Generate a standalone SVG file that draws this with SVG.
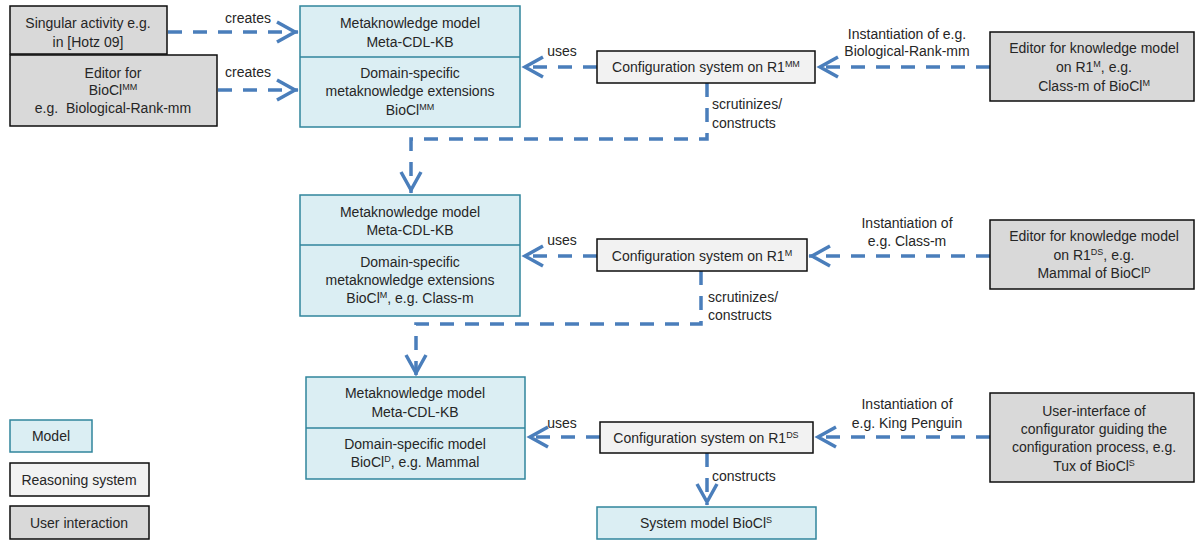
<svg xmlns="http://www.w3.org/2000/svg" width="1195" height="540" viewBox="0 0 1195 540">
<style>
.model{fill:#dbeef3;stroke:#31859c;stroke-width:1.5}
.reason{fill:#f2f2f2;stroke:#0d0d0d;stroke-width:1.5}
.user{fill:#d9d9d9;stroke:#0d0d0d;stroke-width:1.5}
text{font-family:"Liberation Sans",Arial,sans-serif;font-size:14px;fill:#262626}
.c{text-anchor:middle}
.s{text-anchor:start}
.sup{font-size:9px}
.conn{fill:none;stroke:#4a7ebb;stroke-width:3.5;stroke-dasharray:14 11;marker-end:url(#arr)}
</style>
<defs>
<marker id="arr" markerUnits="userSpaceOnUse" viewBox="-24 -13 26 26" markerWidth="26" markerHeight="26" refX="0" refY="0" orient="auto" overflow="visible">
<path d="M-21,-10 L-3,0 L-21,10" fill="none" stroke="#4a7ebb" stroke-width="3.5" stroke-dasharray="none"/>
</marker>
</defs>

<g id="connectors">
<path class="conn" d="M168,32 H298"/>
<path class="conn" d="M218,90 H298"/>
<path class="conn" d="M597,67 H522"/>
<path class="conn" d="M990,67 H817"/>
<path class="conn" d="M707,83 V139 H411 V193"/>
<path class="conn" d="M597,256 H522"/>
<path class="conn" d="M990,256 H809"/>
<path class="conn" d="M701,271 V324 H416 V376"/>
<path class="conn" d="M600,437 H527"/>
<path class="conn" d="M990,437 H815"/>
<path class="conn" d="M707,453 V505"/>
<text class="c" x="248" y="23">creates</text>
<text class="c" x="248" y="77">creates</text>
<text class="c" x="562" y="56">uses</text>
<text class="c" x="907" y="39">Instantiation of e.g.</text>
<text class="c" x="907" y="56">Biological-Rank-mm</text>
<text class="s" x="712" y="109">scrutinizes/</text>
<text class="s" x="712" y="128">constructs</text>
<text class="c" x="562" y="245">uses</text>
<text class="c" x="907" y="228">Instantiation of</text>
<text class="c" x="907" y="246">e.g. Class-m</text>
<text class="s" x="708" y="302">scrutinizes/</text>
<text class="s" x="708" y="320">constructs</text>
<text class="c" x="562" y="428">uses</text>
<text class="c" x="907" y="409">Instantiation of</text>
<text class="c" x="907" y="428">e.g. King Penguin</text>
<text class="s" x="712" y="481">constructs</text>
</g>

<g id="singular-activity">
<rect class="user" x="10" y="6" width="157" height="48"/>
<text class="c" x="88" y="28">Singular activity e.g.</text>
<text class="c" x="88" y="47">in [Hotz 09]</text>
</g>
<g id="editor-biocl-mm">
<rect class="user" x="10" y="55" width="207" height="71"/>
<text class="c" x="113" y="78">Editor for</text>
<text class="c" x="113" y="95">BioCl<tspan class="sup" dy="-5">MM</tspan></text>
<text class="c" x="113" y="113">e.g.&#160; Biological-Rank-mm</text>
</g>

<g id="model-1">
<rect class="model" x="300" y="6" width="220" height="121"/>
<line class="model" x1="300" y1="57" x2="520" y2="57"/>
<text class="c" x="410" y="28">Metaknowledge model</text>
<text class="c" x="410" y="47">Meta-CDL-KB</text>
<text class="c" x="410" y="78">Domain-specific</text>
<text class="c" x="410" y="96">metaknowledge extensions</text>
<text class="c" x="410" y="115">BioCl<tspan class="sup" dy="-5">MM</tspan></text>
</g>
<g id="config-1">
<rect class="reason" x="597" y="51" width="218" height="32"/>
<text class="c" x="706" y="72">Configuration system on R1<tspan class="sup" dy="-5">MM</tspan></text>
</g>
<g id="editor-1">
<rect class="user" x="990" y="32" width="204" height="69"/>
<text class="c" x="1094" y="53">Editor for knowledge model</text>
<text class="c" x="1094" y="72">on R1<tspan class="sup" dy="-5">M</tspan><tspan dy="5">, e.g.</tspan></text>
<text class="c" x="1094" y="91">Class-m of BioCl<tspan class="sup" dy="-5">M</tspan></text>
</g>

<g id="model-2">
<rect class="model" x="300" y="195" width="220" height="121"/>
<line class="model" x1="300" y1="245" x2="520" y2="245"/>
<text class="c" x="410" y="217">Metaknowledge model</text>
<text class="c" x="410" y="235">Meta-CDL-KB</text>
<text class="c" x="410" y="267">Domain-specific</text>
<text class="c" x="410" y="285">metaknowledge extensions</text>
<text class="c" x="410" y="303">BioCl<tspan class="sup" dy="-5">M</tspan><tspan dy="5">, e.g. Class-m</tspan></text>
</g>
<g id="config-2">
<rect class="reason" x="597" y="239" width="210" height="32"/>
<text class="c" x="702" y="261">Configuration system on R1<tspan class="sup" dy="-5">M</tspan></text>
</g>
<g id="editor-2">
<rect class="user" x="990" y="220" width="204" height="69"/>
<text class="c" x="1094" y="241">Editor for knowledge model</text>
<text class="c" x="1094" y="260">on R1<tspan class="sup" dy="-5">DS</tspan><tspan dy="5">, e.g.</tspan></text>
<text class="c" x="1094" y="278">Mammal of BioCl<tspan class="sup" dy="-5">D</tspan></text>
</g>

<g id="model-3">
<rect class="model" x="306" y="377" width="219" height="102"/>
<line class="model" x1="306" y1="428" x2="525" y2="428"/>
<text class="c" x="415" y="398">Metaknowledge model</text>
<text class="c" x="415" y="417">Meta-CDL-KB</text>
<text class="c" x="415" y="449">Domain-specific model</text>
<text class="c" x="415" y="467">BioCl<tspan class="sup" dy="-5">D</tspan><tspan dy="5">, e.g. Mammal</tspan></text>
</g>
<g id="config-3">
<rect class="reason" x="600" y="422" width="213" height="31"/>
<text class="c" x="706" y="443">Configuration system on R1<tspan class="sup" dy="-5">DS</tspan></text>
</g>
<g id="user-interface">
<rect class="user" x="990" y="393" width="204" height="89"/>
<text class="c" x="1094" y="416">User-interface of</text>
<text class="c" x="1094" y="434">configurator guiding the</text>
<text class="c" x="1094" y="452">configuration process, e.g.</text>
<text class="c" x="1094" y="471">Tux of BioCl<tspan class="sup" dy="-5">S</tspan></text>
</g>
<g id="system-model">
<rect class="model" x="597" y="507" width="219" height="32"/>
<text class="c" x="706" y="528">System model BioCl<tspan class="sup" dy="-5">S</tspan></text>
</g>

<g id="legend-model">
<rect class="model" x="10" y="420" width="82" height="32"/>
<text class="c" x="51" y="441">Model</text>
</g>
<g id="legend-reasoning">
<rect class="reason" x="10" y="463" width="139" height="33"/>
<text class="c" x="79" y="485">Reasoning system</text>
</g>
<g id="legend-user">
<rect class="user" x="10" y="506" width="139" height="33"/>
<text class="c" x="79" y="528">User interaction</text>
</g>
</svg>
